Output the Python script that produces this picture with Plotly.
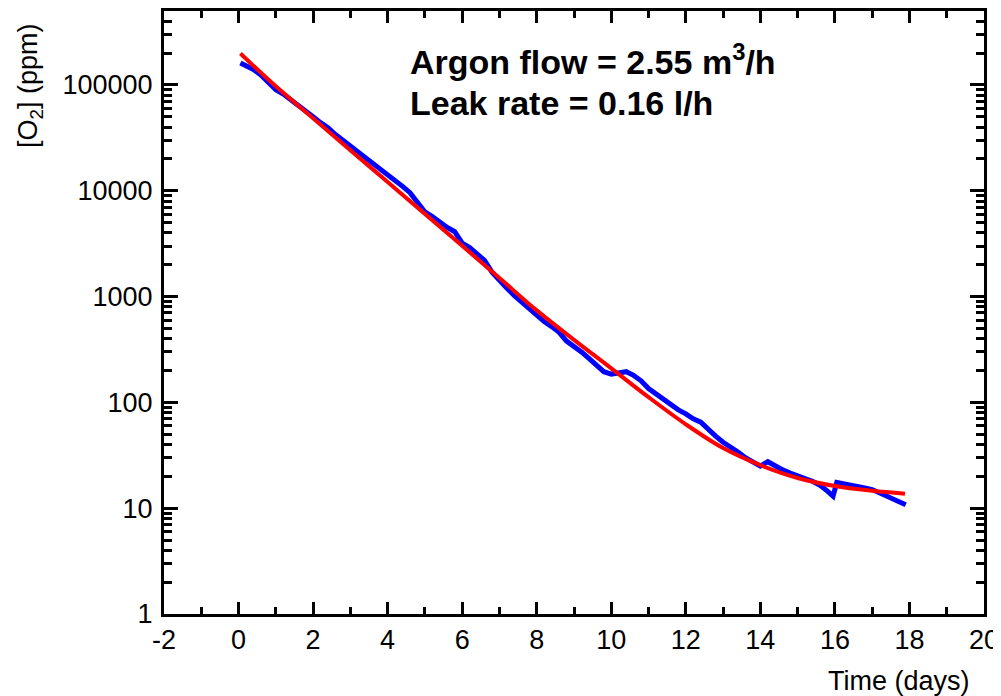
import plotly.graph_objects as go

# Measured O2 concentration (blue)
t_meas = [0.05, 0.2, 0.4, 0.6, 0.8, 1.0, 1.2, 1.4, 1.6, 1.8, 2.0, 2.2, 2.4, 2.6, 2.8,
          3.0, 3.2, 3.4, 3.6, 3.8, 4.0, 4.2, 4.4, 4.6, 4.8, 5.0, 5.2, 5.4, 5.6, 5.8,
          6.0, 6.2, 6.4, 6.6, 6.8, 7.0, 7.2, 7.4, 7.6, 7.8, 8.0, 8.2, 8.4, 8.6, 8.8,
          9.0, 9.2, 9.4, 9.6, 9.8, 10.0, 10.2, 10.4, 10.6, 10.8, 11.0, 11.2, 11.4, 11.6, 11.8,
          12.0, 12.2, 12.4, 12.6, 12.8, 13.0, 13.2, 13.4, 13.6, 13.8, 14.0, 14.2, 14.4, 14.6, 14.8,
          15.0, 15.2, 15.4, 15.6, 15.8, 15.95, 16.05, 16.2, 16.4, 16.6, 16.8, 17.0, 17.2, 17.4, 17.6,
          17.8, 17.9]
o2_meas = [161000, 152000, 140000, 124000, 105000, 90000, 82000, 73000, 64000, 57000, 50000,
           44000, 39500, 34000, 30000, 26500, 23500, 21000, 18500, 16500, 14500, 12600, 11000,
           9600, 7800, 6300, 5700, 5000, 4500, 4100, 3200, 2900, 2500, 2200, 1700, 1400, 1200,
           1020, 880, 760, 660, 580, 520, 460, 380, 340, 300, 260, 225, 195, 185, 188, 195, 180,
           160, 135, 120, 108, 95, 85, 78, 70, 65, 55, 48, 42, 38, 34, 30, 27, 25, 27.5, 25, 23,
           21.5, 20, 19, 18, 16.5, 14.5, 13.0, 17.5, 17, 16.5, 16, 15.5, 15, 14, 13, 12, 11.5, 10.8]

# Fit curve (red)
t_fit = [0.05, 1, 2, 3, 4, 5, 6, 7, 8, 9, 10, 11, 12, 13, 14, 15, 16, 17, 17.88]
o2_fit = [198000, 97000, 48500, 24200, 12100, 6050, 3020, 1500, 740, 390, 210, 112, 62, 37,
          25.5, 19.3, 16.2, 14.6, 13.7]

x_ticks = [-2, 0, 2, 4, 6, 8, 10, 12, 14, 16, 18, 20]
x_ticktext = ["-2", "0", "2", "4", "6", "8", "10", "12", "14", "16", "18", "20"]
y_ticks = [1, 10, 100, 1000, 10000, 100000]
y_ticktext = ["1", "10", "100", "1000", "10000", "100000"]

FONT = "Liberation Sans, Arial, sans-serif"

# The page body has an 8px margin, so the figure is placed at (8, 8) in the window.
OFF = 8
FIG_W, FIG_H = 1001, 696
PL, PR, PT, PB = 164 - OFF, 984 - OFF, 11 - OFF, 614 - OFF  # plot area in figure px
PW, PH = PR - PL, PB - PT


def px(x, y):
    """Window pixel -> paper coordinates."""
    return (x - OFF - PL) / PW, (PB - (y - OFF)) / PH


fig = go.Figure()
fig.add_trace(go.Scatter(x=t_meas, y=o2_meas, mode="lines",
                         line=dict(color="#0000ff", width=5), showlegend=False))
fig.add_trace(go.Scatter(x=t_fit, y=o2_fit, mode="lines",
                         line=dict(color="#ff0000", width=4, shape="spline"), showlegend=False))

axis_common = dict(showgrid=False, zeroline=False, showline=True, linecolor="black",
                   linewidth=3, mirror="ticks", ticks="inside", tickcolor="black",
                   tickwidth=2.5, ticklabeloverflow="allow",
                   tickfont=dict(family=FONT, size=27, color="black"))

fig.update_xaxes(range=[-2, 20], tickvals=x_ticks, ticktext=x_ticktext, ticklen=12,
                 minor=dict(ticks="inside", dtick=1, ticklen=7, tickwidth=2.5,
                            tickcolor="black", showgrid=False),
                 **axis_common)
fig.update_yaxes(type="log", range=[0, 5.699], tickvals=y_ticks, ticktext=y_ticktext,
                 ticklen=14, ticklabelstandoff=3,
                 minor=dict(ticks="inside", dtick="D1", ticklen=8, tickwidth=2.5,
                            tickcolor="black", showgrid=False),
                 **axis_common)

a1 = px(408, 60)
a2 = px(408, 103)
at = px(899, 681)
ay = px(30, 86)

fig.update_layout(
    width=FIG_W, height=FIG_H,
    margin=dict(l=PL, r=FIG_W - PR, t=PT, b=FIG_H - PB, autoexpand=False),
    paper_bgcolor="white", plot_bgcolor="white",
    font=dict(family=FONT, color="black"),
    annotations=[
        dict(text="<b>Argon flow = 2.55 m<sup>3</sup>/h</b>", xref="paper", yref="paper",
             x=a1[0], y=a1[1], xanchor="left", yanchor="middle",
             showarrow=False, font=dict(family=FONT, size=34, color="black")),
        dict(text="<b>Leak rate = 0.16 l/h</b>", xref="paper", yref="paper",
             x=a2[0], y=a2[1], xanchor="left", yanchor="middle",
             showarrow=False, font=dict(family=FONT, size=34, color="black")),
        dict(text="Time (days)", xref="paper", yref="paper",
             x=at[0], y=at[1], xanchor="center", yanchor="middle",
             showarrow=False, font=dict(family=FONT, size=27, color="black")),
        dict(text="[O<sub>2</sub>] (ppm)", xref="paper", yref="paper", textangle=-90,
             x=ay[0], y=ay[1], xanchor="center", yanchor="middle",
             showarrow=False, font=dict(family=FONT, size=27, color="black")),
    ],
)

fig.write_html("out.html")
